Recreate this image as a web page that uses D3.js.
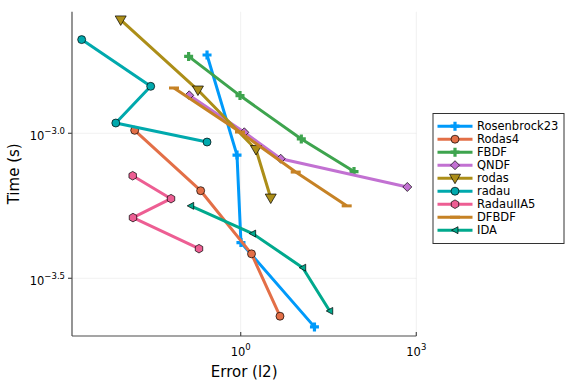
<!DOCTYPE html>
<html>
<head>
<meta charset="utf-8">
<script src="https://cdn.jsdelivr.net/npm/d3@7"></script>
<style>
  html, body { margin: 0; padding: 0; background: #fff; }
  #chart { width: 576px; height: 384px; }
</style>
</head>
<body>
<div id="chart"></div>
<script>
const seriesNames = ["Rosenbrock23", "Rodas4", "FBDF", "QNDF", "rodas", "radau", "RadauIIA5", "DFBDF", "IDA"];

const rosenbrock23Err = [0.266, 0.865, 1.01, 18.2];
const rosenbrock23Time = [1.862e-3, 8.41e-4, 4.2e-4, 2.15e-4];
const rodas4Err = [0.01545, 0.207, 1.53, 4.69];
const rodas4Time = [1.024e-3, 6.34e-4, 3.84e-4, 2.34e-4];
const fbdfErr = [0.129, 0.973, 10.85, 86.3];
const fbdfTime = [1.841e-3, 1.349e-3, 9.56e-4, 7.38e-4];
const qndfErr = [0.132, 1.152, 4.83, 702];
const qndfTime = [1.352e-3, 1.008e-3, 8.17e-4, 6.53e-4];
const rodasErr = [0.00891, 0.186, 1.825, 3.26];
const rodasTime = [2.46e-3, 1.41e-3, 8.79e-4, 5.98e-4];
const radauErr = [0.00192, 0.029, 0.00735, 0.266];
const radauTime = [2.104e-3, 1.452e-3, 1.085e-3, 9.33e-4];
const radauIIA5Err = [0.01428, 0.0645, 0.01445, 0.194];
const radauIIA5Time = [7.14e-4, 5.95e-4, 5.12e-4, 4.0e-4];
const dfbdfErr = [0.0725, 0.973, 8.71, 64.7];
const dfbdfTime = [1.433e-3, 1.01e-3, 7.35e-4, 5.62e-4];
const idaErr = [0.14, 1.6, 11.47, 33.2];
const idaTime = [5.62e-4, 4.51e-4, 3.44e-4, 2.44e-4];

const xTickValues = [1, 1000];
const xTickExps = ["0", "3"];
const yTickValues = [Math.pow(10, -3.0), Math.pow(10, -3.5)];
const yTickExps = ["\u22123.0", "\u22123.5"];

(function() {
  const COLORS = ["#009AFA", "#E36F47", "#3EA44E", "#C271D2", "#AC8E18", "#00A9AD", "#ED5E93", "#C68225", "#00A98D"];
  const MARKERS = ["cross", "circle", "cross", "diamond", "dtriangle", "circle", "hexagon", "hline", "ltriangle"];
  const FONT = "DejaVu Sans, sans-serif";
  const LINEWIDTH = 3;

  const errs = [rosenbrock23Err, rodas4Err, fbdfErr, qndfErr, rodasErr, radauErr, radauIIA5Err, dfbdfErr, idaErr];
  const times = [rosenbrock23Time, rodas4Time, fbdfTime, qndfTime, rodasTime, radauTime, radauIIA5Time, dfbdfTime, idaTime];

  const series = seriesNames.map((name, i) => ({
    name,
    color: COLORS[i],
    marker: MARKERS[i],
    points: errs[i].map((e, j) => ({ err: e, time: times[i][j] }))
  }));

  const plot = { left: 72, right: 416.3, top: 11.7, bottom: 336 };

  const svg = d3.select("#chart").append("svg")
    .attr("width", 576).attr("height", 384)
    .style("font-family", FONT);

  const x = d3.scaleLog()
    .domain([Math.pow(10, -2.882), 1000])
    .range([plot.left, plot.right]);
  const y = d3.scaleLog()
    .domain([Math.pow(10, -3.699), Math.pow(10, -2.5807)])
    .range([plot.bottom, plot.top]);

  // grid
  const grid = svg.append("g").attr("stroke", "#000").attr("stroke-opacity", 0.1).attr("stroke-width", 0.6);
  grid.selectAll(".gx").data(xTickValues).enter().append("line")
    .attr("x1", d => x(d)).attr("x2", d => x(d))
    .attr("y1", plot.top).attr("y2", plot.bottom);
  grid.selectAll(".gy").data(yTickValues).enter().append("line")
    .attr("x1", plot.left).attr("x2", plot.right)
    .attr("y1", d => y(d)).attr("y2", d => y(d));

  // axes lines
  const axes = svg.append("g").attr("stroke", "#4d4d4d").attr("stroke-width", 1.2);
  axes.append("line").attr("x1", plot.left).attr("x2", plot.left).attr("y1", plot.top).attr("y2", plot.bottom);
  axes.append("line").attr("x1", plot.left).attr("x2", plot.right).attr("y1", plot.bottom).attr("y2", plot.bottom);
  axes.selectAll(".tx").data(xTickValues).enter().append("line")
    .attr("x1", d => x(d)).attr("x2", d => x(d))
    .attr("y1", plot.bottom).attr("y2", plot.bottom - 4);
  axes.selectAll(".ty").data(yTickValues).enter().append("line")
    .attr("x1", plot.left).attr("x2", plot.left - 4)
    .attr("y1", d => y(d)).attr("y2", d => y(d));

  // tick labels
  const xl = svg.append("g").selectAll("text").data(xTickValues).enter().append("text")
    .attr("x", d => x(d)).attr("y", plot.bottom + 19.5)
    .attr("text-anchor", "middle").attr("font-size", 11.5).attr("fill", "#000");
  xl.append("tspan").text("10");
  xl.append("tspan").attr("dy", -5.5).attr("font-size", 8.5).text((d, i) => xTickExps[i]);

  const yl = svg.append("g").selectAll("text").data(yTickValues).enter().append("text")
    .attr("x", plot.left - 7).attr("y", d => y(d) + 6.5)
    .attr("text-anchor", "end").attr("font-size", 11.5).attr("fill", "#000");
  yl.append("tspan").text("10");
  yl.append("tspan").attr("dy", -5.5).attr("font-size", 8.5).text((d, i) => yTickExps[i]);

  // axis titles
  svg.append("text").attr("x", (plot.left + plot.right) / 2).attr("y", 377)
    .attr("text-anchor", "middle").attr("font-size", 15).text("Error (l2)");
  svg.append("text").attr("transform", `translate(19, ${(plot.top + plot.bottom) / 2}) rotate(-90)`)
    .attr("text-anchor", "middle").attr("font-size", 15).text("Time (s)");

  function markerPath(type) {
    switch (type) {
      case "cross": {
        const a = 4.5, b = 1.6;
        return `M${-b},${-a}H${b}V${-b}H${a}V${b}H${b}V${a}H${-b}V${b}H${-a}V${-b}H${-b}Z`;
      }
      case "circle":
        return d3.symbol(d3.symbolCircle, 50)();
      case "hexagon": {
        const r = 4.3;
        const pts = d3.range(6).map(k => {
          const ang = Math.PI / 6 + k * Math.PI / 3;
          return [r * Math.cos(ang), r * Math.sin(ang)];
        });
        return "M" + pts.map(p => p.join(",")).join("L") + "Z";
      }
      case "diamond":
        return "M0,-4.5L4.5,0L0,4.5L-4.5,0Z";
      case "dtriangle":
        return "M-5.5,-4L5.5,-4L0,5.5Z";
      case "ltriangle":
        return "M-3.5,0L3,-3.5L3,3.5Z";
      case "hline":
        return "M-5,-1.5H5V1.5H-5Z";
    }
    return "";
  }

  const hasOutline = m => !(m === "cross" || m === "hline");

  const line = d3.line().x(d => x(d.err)).y(d => y(d.time));

  const plotG = svg.append("g");
  series.forEach(s => {
    const g = plotG.append("g");
    g.append("path").attr("d", line(s.points))
      .attr("fill", "none").attr("stroke", s.color)
      .attr("stroke-width", LINEWIDTH).attr("stroke-linejoin", "round");
    g.selectAll("path.m").data(s.points).enter().append("path")
      .attr("class", "m")
      .attr("d", markerPath(s.marker))
      .attr("transform", d => `translate(${x(d.err)},${y(d.time)})`)
      .attr("fill", s.color)
      .attr("stroke", hasOutline(s.marker) ? "#000" : "none")
      .attr("stroke-width", 0.7);
  });

  // legend
  const legend = svg.append("g").attr("transform", "translate(433, 113.5)");
  legend.append("rect").attr("width", 131).attr("height", 130)
    .attr("fill", "#fff").attr("stroke", "#333").attr("stroke-width", 1);
  const items = legend.selectAll("g.item").data(series).enter().append("g")
    .attr("class", "item")
    .attr("transform", (d, i) => `translate(0, ${12.7 + i * 13})`);
  items.append("line").attr("x1", 4.5).attr("x2", 39.5)
    .attr("stroke", d => d.color).attr("stroke-width", LINEWIDTH);
  items.append("path").attr("d", d => markerPath(d.marker))
    .attr("transform", "translate(22,0)")
    .attr("fill", d => d.color)
    .attr("stroke", d => hasOutline(d.marker) ? "#000" : "none")
    .attr("stroke-width", 0.7);
  items.append("text").attr("x", 44).attr("y", 4.2)
    .attr("font-size", 11.5).attr("fill", "#000").text(d => d.name);
})();
</script>
</body>
</html>
